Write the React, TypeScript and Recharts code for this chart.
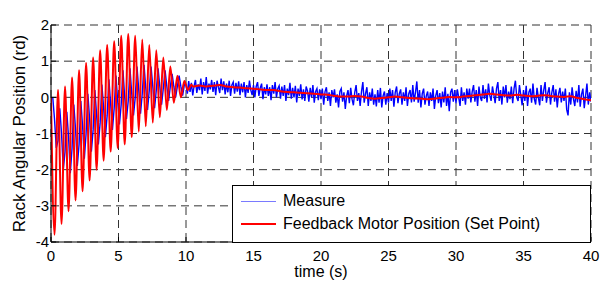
import { LineChart, Line, XAxis, YAxis, CartesianGrid, Legend } from 'recharts'

const title = 'Ysetpoint = 7m; Vveh = 36 km/h'
const seriesNames = ['Measure', 'Feedback Motor Position (Set Point)']
const xTicks = [0, 5, 10, 15, 20, 25, 30, 35, 40]
const yTicks = [-4, -3, -2, -1, 0, 1, 2]

// set point, from 0 s, one value every 0.26 s (turning points of the oscillation)
const redOsc = [
  0, -3.8, 0.2, -3.5, 0.3, -3.15, 0.55, -2.85, 0.75, -2.6, 0.95, -2.3, 1.1, -2.0, 1.3, -1.75,
  1.45, -1.5, 1.55, -1.4, 1.7, -1.3, 1.75, -1.1, 1.7, -0.95, 1.6, -0.8, 1.45, -0.7, 1.3, -0.55,
  1.1, -0.35, 0.85, -0.15, 0.6, 0.0, 0.45, 0.2, 0.35,
]
// set point, 10.5..40 s, every 0.5 s
const redTail = [
  0.3, 0.33, 0.3, 0.32, 0.34, 0.3, 0.28, 0.27, 0.25, 0.24, 0.22, 0.2, 0.2, 0.17, 0.15, 0.14,
  0.13, 0.11, 0.1, 0.08, 0.07, 0.04, 0.02, 0.02, 0.04, 0.02, -0.02, -0.04, -0.02, 0.0, 0.02, 0.0,
  -0.02, -0.03, -0.04, -0.05, -0.03, -0.01, 0.01, 0.0, 0.02, 0.04, 0.06, 0.08, 0.1, 0.08, 0.06,
  0.05, 0.07, 0.05, 0.03, 0.04, 0.06, 0.04, 0.02, 0.01, 0.03, -0.02, -0.05, -0.08,
]
// measure, from 0.13 s, every 0.13 s
const blueOsc = [
  0.0, -0.6, -1.4, -1.2, -0.3, -1.0, -2.0, -1.5, -0.4, -1.1, -2.1, -1.4, -0.2, -0.9, -1.9, -1.3,
  -0.1, -0.8, -1.7, -1.0, 0.1, -0.6, -1.5, -0.9, 0.2, -0.5, -1.3, -0.7, 0.35, -0.3, -1.1, -0.5,
  0.5, -0.2, -0.9, -0.3, 0.6, -0.1, -0.75, -0.2, 0.75, 0.0, -0.6, -0.1, 0.8, 0.1, -0.5, 0.0,
  0.85, 0.2, -0.45, 0.1, 0.9, 0.25, -0.35, 0.2, 0.85, 0.3, -0.3, 0.2, 0.8, 0.3, -0.2, 0.25,
  0.75, 0.3, -0.1, 0.3, 0.65, 0.3, 0.0, 0.3, 0.6, 0.3, 0.05, 0.35,
]
// measure, 10..40 s, every 0.1 s
const blueTail = [
  0.35, 0.1, 0.45, 0.15, 0.4, 0.05, 0.32, 0.48, 0.12, 0.36,
  0.2, 0.52, 0.08, 0.42, 0.18, 0.56, 0.1, 0.38, 0.22, 0.48,
  0.15, 0.42, 0.06, 0.46, 0.28, 0.12, 0.52, 0.2, 0.44, 0.08,
  0.38, 0.14, 0.46, 0.04, 0.34, 0.42, 0.1, 0.4, 0.16, 0.44,
  0.06, 0.38, 0.14, 0.42, 0.0, 0.34, 0.12, 0.46, 0.2, 0.06,
  0.34, 0.0, 0.3, 0.42, 0.04, 0.26, 0.38, -0.05, 0.28, 0.08,
  0.36, 0.04, 0.28, -0.08, 0.34, 0.1, 0.42, 0.0, 0.24, 0.32,
  -0.04, 0.3, 0.04, 0.34, -0.1, 0.24, 0.06, 0.4, -0.04, 0.26,
  0.0, 0.32, -0.14, 0.24, 0.04, 0.36, -0.06, 0.22, -0.1, 0.3,
  0.18, -0.12, 0.26, 0.0, 0.34, -0.15, 0.16, 0.24, -0.08, 0.22,
  -0.05, 0.24, -0.2, 0.16, 0.28, -0.1, 0.14, -0.24, 0.2, 0.0,
  0.22, -0.15, 0.08, -0.28, 0.16, 0.24, -0.12, 0.14, -0.32, 0.04,
  0.2, -0.16, 0.26, -0.05, -0.22, 0.14, 0.34, -0.1, 0.12, -0.24,
  0.16, 0.42, -0.15, 0.1, 0.28, -0.24, 0.14, -0.1, 0.24, -0.2,
  0.08, -0.25, 0.2, -0.15, 0.26, -0.28, 0.04, 0.16, -0.2, 0.12,
  -0.15, 0.24, -0.1, 0.2, -0.26, 0.14, 0.3, -0.16, 0.1, 0.22,
  -0.2, 0.14, -0.1, 0.28, -0.24, 0.1, 0.2, -0.14, 0.34, -0.12,
  0.14, 0.44, -0.15, 0.2, -0.28, 0.1, 0.24, -0.2, 0.04, 0.16,
  -0.24, 0.14, -0.1, 0.24, -0.32, 0.04, 0.2, -0.16, 0.12, -0.28,
  0.16, -0.14, 0.28, -0.24, 0.1, -0.38, 0.14, 0.24, -0.12, 0.2,
  -0.16, 0.22, 0.0, -0.24, 0.28, -0.1, 0.14, -0.2, 0.24, -0.04,
  0.24, -0.14, 0.16, 0.34, -0.12, 0.2, -0.24, 0.3, 0.0, -0.1,
  0.34, -0.04, 0.22, -0.14, 0.38, 0.06, -0.1, 0.3, 0.08, -0.16,
  0.24, 0.42, -0.1, 0.2, -0.2, 0.3, 0.0, 0.34, -0.15, 0.16,
  -0.05, 0.3, -0.16, 0.24, 0.46, 0.0, -0.1, 0.34, 0.06, -0.22,
  0.2, -0.1, 0.32, -0.24, 0.14, 0.24, -0.15, 0.38, -0.04, -0.2,
  0.26, 0.0, -0.22, 0.34, -0.1, 0.2, 0.42, -0.15, 0.12, 0.28,
  -0.2, 0.14, 0.34, -0.12, 0.22, -0.28, 0.1, 0.26, -0.14, 0.16,
  -0.1, 0.24, -0.34, -0.5, 0.14, -0.2, 0.28, -0.04, -0.24, 0.18,
  -0.14, 0.34, -0.26, 0.08, 0.24, -0.3, 0.04, 0.38, -0.2, 0.14,
  -0.12,
]

const measure = [
  ...blueOsc.map((v, i) => ({ t: (i + 1) * 0.13, v })),
  ...blueTail.map((v, i) => ({ t: 10 + i * 0.1, v })),
]
const setPoint = [
  ...redOsc.map((v, i) => ({ t: i * 0.26, v })),
  ...redTail.map((v, i) => ({ t: 10.5 + i * 0.5, v })),
]

function LegendBox({ payload }: any) {
  const items = seriesNames
    .map((n) => (payload || []).find((p: any) => p.value === n))
    .filter(Boolean)
  return (
    <div style={{ width: 357, height: 56, border: '1px solid #000', background: '#fff', fontSize: 16, color: '#000' }}>
      {items.map((p: any, i: number) => (
        <div key={p.value} style={{ display: 'flex', alignItems: 'center', height: 22, marginTop: i === 0 ? 4 : 1 }}>
          <div
            style={{
              width: 35,
              marginLeft: 8,
              marginRight: 7,
              borderTop: p.value === 'Measure' ? '1px solid #7a7aff' : `2px solid ${p.color}`,
            }}
          />
          <span>{p.value}</span>
        </div>
      ))}
    </div>
  )
}

export default function App() {
  return (
    <div style={{ position: 'absolute', left: 0, top: 0, fontFamily: '"Liberation Sans", Arial, sans-serif', background: '#fff' }}>
      <LineChart width={602} height={285} margin={{ top: 25, right: 11, bottom: 0, left: 0 }}>
        <CartesianGrid strokeDasharray="8 5" stroke="#333" />
        <XAxis
          dataKey="t"
          type="number"
          domain={[0, 40]}
          ticks={xTicks}
          allowDataOverflow
          height={43}
          stroke="#000"
          tickSize={-5}
          tickMargin={13}
          tick={{ fill: '#000', fontSize: 15 }}
          label={{ value: 'time (s)', position: 'insideBottom', offset: 8, fill: '#000', fontSize: 16 }}
        />
        <XAxis
          xAxisId="top"
          orientation="top"
          type="number"
          domain={[0, 40]}
          ticks={xTicks}
          height={0}
          stroke="#000"
          tickSize={-5}
          tickFormatter={() => ''}
          label={{ value: title, position: 'top', offset: 3, fill: '#000', fontSize: 16 }}
        />
        <YAxis
          type="number"
          domain={[-4, 2]}
          ticks={yTicks}
          allowDataOverflow
          width={51}
          stroke="#000"
          tickSize={-5}
          tickMargin={7}
          tick={{ fill: '#000', fontSize: 15 }}
          label={{ value: 'Rack Angular Position (rd)', angle: -90, position: 'center', dx: -6.5, fill: '#000', fontSize: 17 }}
        />
        <YAxis
          yAxisId="right"
          orientation="right"
          type="number"
          domain={[-4, 2]}
          ticks={yTicks}
          width={0}
          stroke="#000"
          tickSize={-5}
          tickFormatter={() => ''}
        />
        <Legend
          layout="vertical"
          align="center"
          verticalAlign="middle"
          wrapperStyle={{ left: 232, top: 185, width: 359, height: 58 }}
          content={(props: any) => <LegendBox payload={props.payload} />}
        />
        <Line
          data={measure}
          dataKey="v"
          name="Measure"
          stroke="#0000ff"
          strokeWidth={1.4}
          dot={false}
          isAnimationActive={false}
        />
        <Line
          data={setPoint}
          dataKey="v"
          name="Feedback Motor Position (Set Point)"
          type="monotone"
          stroke="#ff0000"
          strokeWidth={2}
          dot={false}
          isAnimationActive={false}
        />
      </LineChart>
    </div>
  )
}
